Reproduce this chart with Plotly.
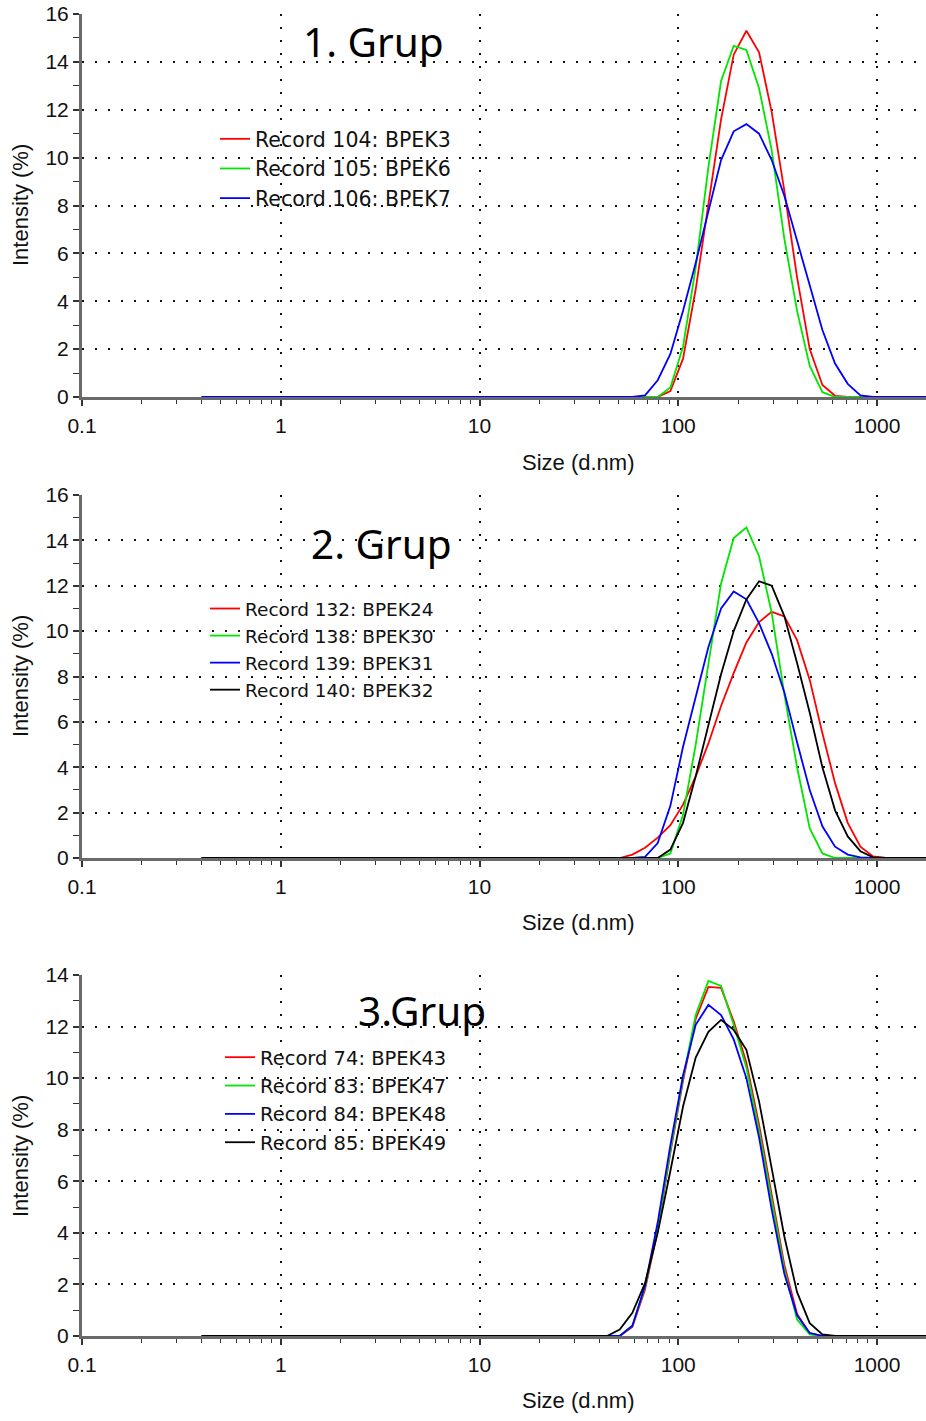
import plotly.graph_objects as go

# ---------------- data ----------------
SIZES_NM = [0.4, 0.4632, 0.5365, 0.6213, 0.7195, 0.8332, 0.9649, 1.117, 1.294, 1.499,
            1.736, 2.010, 2.328, 2.696, 3.122, 3.615, 4.187, 4.849, 5.615, 6.503,
            7.531, 8.721, 10.10, 11.70, 13.54, 15.69, 18.17, 21.04, 24.36, 28.21,
            32.67, 37.84, 43.82, 50.75, 58.77, 68.06, 78.82, 91.28, 105.7, 122.4,
            141.8, 164.2, 190.1, 220.2, 255.0, 295.3, 342.0, 396.1, 458.7, 531.2,
            615.1, 712.4, 825.0, 955.4, 1106, 1281, 1484, 1718, 1990, 2305,
            2669, 3091, 3580, 4145, 4801, 5560, 6439, 7456, 8635, 10000]

# intensities for the bins 43.82 ... 1106 nm (all other bins read as 0)
LEAD = [0.0] * 32
TAIL = [0.0] * 15

G1_NAMES = ["Record 104: BPEK3", "Record 105: BPEK6", "Record 106: BPEK7"]
G1_BPEK3 = LEAD + [0, 0, 0, 0, 0, 0.25, 1.6, 4.5, 8.0, 11.6, 14.3, 15.3, 14.4, 11.9, 8.6, 5.0, 2.0, 0.5, 0.05, 0, 0, 0, 0] + TAIL
G1_BPEK6 = LEAD + [0, 0, 0, 0, 0, 0.4, 2.1, 5.4, 9.6, 13.2, 14.67, 14.5, 12.9, 10.3, 6.6, 3.6, 1.3, 0.2, 0, 0, 0, 0, 0] + TAIL
G1_BPEK7 = LEAD + [0, 0, 0, 0.07, 0.7, 1.8, 3.6, 5.6, 7.8, 9.9, 11.1, 11.4, 11.0, 9.9, 8.4, 6.5, 4.6, 2.8, 1.4, 0.55, 0.07, 0, 0] + TAIL

G2_NAMES = ["Record 132: BPEK24", "Record 138: BPEK30", "Record 139: BPEK31", "Record 140: BPEK32"]
G2_BPEK24 = LEAD + [0, 0, 0.15, 0.45, 0.9, 1.45, 2.35, 3.6, 5.05, 6.7, 8.15, 9.5, 10.4, 10.85, 10.65, 9.6, 7.85, 5.5, 3.3, 1.55, 0.5, 0.07, 0] + TAIL
G2_BPEK30 = LEAD + [0, 0, 0, 0, 0, 0.2, 1.9, 5.0, 8.6, 12.1, 14.1, 14.57, 13.3, 10.8, 7.2, 4.0, 1.3, 0.2, 0, 0, 0, 0, 0] + TAIL
G2_BPEK31 = LEAD + [0, 0, 0, 0.05, 0.66, 2.3, 4.9, 7.1, 9.3, 11.0, 11.75, 11.4, 10.35, 9.0, 7.3, 5.1, 3.0, 1.4, 0.5, 0.15, 0.03, 0, 0] + TAIL
G2_BPEK32 = LEAD + [0, 0, 0, 0, 0, 0.37, 1.55, 3.6, 5.8, 8.1, 10.0, 11.4, 12.2, 12.0, 10.65, 8.6, 6.4, 4.0, 2.1, 0.95, 0.3, 0.03, 0] + TAIL

G3_NAMES = ["Record 74: BPEK43", "Record 83: BPEK47", "Record 84: BPEK48", "Record 85: BPEK49"]
G3_BPEK43 = LEAD + [0, 0, 0.35, 1.8, 4.1, 7.1, 9.9, 12.3, 13.54, 13.5, 12.2, 10.6, 8.2, 5.5, 2.75, 0.85, 0.1, 0, 0, 0, 0, 0, 0] + TAIL
G3_BPEK47 = LEAD + [0, 0, 0.4, 1.9, 4.2, 7.2, 10.0, 12.45, 13.77, 13.58, 12.07, 10.4, 7.96, 5.26, 2.57, 0.64, 0.06, 0, 0, 0, 0, 0, 0] + TAIL
G3_BPEK48 = LEAD + [0, 0, 0.4, 1.95, 4.4, 7.4, 10.1, 12.07, 12.84, 12.45, 11.5, 10.0, 7.7, 4.9, 2.4, 0.8, 0.12, 0, 0, 0, 0, 0, 0] + TAIL
G3_BPEK49 = LEAD + [0, 0.25, 0.9, 2.05, 4.0, 6.4, 8.9, 10.8, 11.8, 12.26, 11.87, 11.1, 9.1, 6.5, 3.85, 1.7, 0.5, 0.06, 0, 0, 0, 0, 0] + TAIL

GROUP_TITLES = ["1. Grup", "2. Grup", "3.Grup"]
X_TICK_VALS = [0.1, 1, 10, 100, 1000]
X_TICK_TEXT = ["0.1", "1", "10", "100", "1000"]
Y_MAX = [16, 16, 14]
X_TITLE = "Size (d.nm)"
Y_TITLE = "Intensity (%)"

COLORS = ["#ff0000", "#00e600", "#0000ff", "#000000"]

groups = [
    (G1_NAMES, [G1_BPEK3, G1_BPEK6, G1_BPEK7]),
    (G2_NAMES, [G2_BPEK24, G2_BPEK30, G2_BPEK31, G2_BPEK32]),
    (G3_NAMES, [G3_BPEK43, G3_BPEK47, G3_BPEK48, G3_BPEK49]),
]

# ---------------- layout geometry (pixels) ----------------
W, H = 926, 1421
PLOT_LEFT = 82
X_RANGE = [-1, 3.2465]
PANELS = [
    dict(top=14, bottom=397, title=(373, 42), legend=(215, 119), legsize=20.5,
         xt=462, yt=205),
    dict(top=495, bottom=858, title=(381, 543), legend=(205, 590), legsize=18.5,
         xt=922, yt=676),
    dict(top=975, bottom=1336, title=(422, 1010), legend=(220, 1038), legsize=19.5,
         xt=1400, yt=1156),
]

def fy(p):
    return 1 - p / H

def fx(p):
    return p / W

TICK_FONT = dict(family="Liberation Sans", size=21, color="#111")
TITLE_FONT = dict(family="Liberation Sans", size=22, color="#111")
LEG_FONT = "DejaVu Sans"
GRID = dict(showgrid=True, gridcolor="#111", gridwidth=1.6, griddash="2px,11px")
TICKC = "#333"

fig = go.Figure()
layout = dict(
    width=W, height=H,
    margin=dict(l=0, r=0, t=0, b=0, autoexpand=False),
    paper_bgcolor="white", plot_bgcolor="white",
    font=dict(family="Liberation Sans", size=19, color="#111"),
    annotations=[],
)

for i, ((names, series), pan) in enumerate(zip(groups, PANELS)):
    sfx = "" if i == 0 else str(i + 1)
    osfx = str(i + 4)
    legname = "legend" + sfx
    for j, (name, vals) in enumerate(zip(names, series)):
        fig.add_trace(go.Scatter(
            x=SIZES_NM, y=vals, name=name, mode="lines",
            line=dict(color=COLORS[j], width=1.8),
            xaxis="x" + sfx, yaxis="y" + sfx, legend=legname,
        ))
    xdom = [fx(PLOT_LEFT), 1]
    ydom = [fy(pan["bottom"]), fy(pan["top"])]
    layout["xaxis" + sfx] = dict(
        type="log", range=X_RANGE, domain=xdom,
        anchor="y" + sfx, automargin=False,
        tickmode="array", tickvals=X_TICK_VALS, ticktext=X_TICK_TEXT,
        ticks="outside", ticklen=6, tickwidth=1.6, tickcolor=TICKC,
        ticklabelstandoff=2,
        minor=dict(dtick="D1", ticks="outside", ticklen=4, tickwidth=1.3,
                   tickcolor=TICKC, showgrid=False),
        showline=True, linecolor="#6a6a6a", linewidth=3,
        zeroline=False, layer="below traces",
        tickfont=TICK_FONT,
        **GRID,
    )
    layout["yaxis" + sfx] = dict(
        range=[0, Y_MAX[i]], domain=ydom,
        anchor="x" + sfx, automargin=False,
        tick0=0, dtick=2,
        ticks="outside", ticklen=6, tickwidth=1.6, tickcolor=TICKC,
        minor=dict(dtick=1, ticks="outside", ticklen=6, tickwidth=1.3,
                   tickcolor=TICKC, showgrid=False),
        showline=True, linecolor="#6a6a6a", linewidth=3,
        zeroline=False, layer="below traces",
        tickfont=TICK_FONT,
        **GRID,
    )
    # overlay axes that add the inner half of the crossing tick marks
    layout["xaxis" + osfx] = dict(
        type="log", range=X_RANGE, domain=xdom, overlaying="x" + sfx,
        anchor="y" + sfx, automargin=False,
        tickmode="array", tickvals=X_TICK_VALS, showticklabels=False,
        ticks="inside", ticklen=6, tickwidth=1.6, tickcolor=TICKC,
        minor=dict(dtick="D1", ticks="inside", ticklen=4, tickwidth=1.3,
                   tickcolor=TICKC, showgrid=False),
        showline=False, showgrid=False, zeroline=False, layer="below traces",
    )
    layout["yaxis" + osfx] = dict(
        range=[0, Y_MAX[i]], domain=ydom, overlaying="y" + sfx,
        anchor="x" + sfx, automargin=False,
        tick0=0, dtick=2, showticklabels=False,
        ticks="inside", ticklen=6, tickwidth=1.6, tickcolor=TICKC,
        minor=dict(dtick=1, ticks="inside", ticklen=6, tickwidth=1.3,
                   tickcolor=TICKC, showgrid=False),
        showline=False, showgrid=False, zeroline=False, layer="below traces",
    )
    layout[legname] = dict(
        x=fx(pan["legend"][0]), y=fy(pan["legend"][1]),
        xanchor="left", yanchor="top",
        bgcolor="rgba(0,0,0,0)", borderwidth=0,
        font=dict(family=LEG_FONT, size=pan["legsize"], color="#111"),
        tracegroupgap=0,
    )
    tx, ty = pan["title"]
    layout["annotations"].append(dict(
        text=GROUP_TITLES[i], x=fx(tx), y=fy(ty), xref="paper", yref="paper",
        xanchor="center", yanchor="middle", showarrow=False,
        font=dict(family="Noto Sans", size=40.5, color="#000"),
    ))
    layout["annotations"].append(dict(
        text=X_TITLE, x=fx(578), y=fy(pan["xt"]), xref="paper", yref="paper",
        xanchor="center", yanchor="middle", showarrow=False,
        font=TITLE_FONT,
    ))
    layout["annotations"].append(dict(
        text=Y_TITLE, x=fx(20), y=fy(pan["yt"]), xref="paper", yref="paper",
        xanchor="center", yanchor="middle", showarrow=False, textangle=-90,
        font=TITLE_FONT,
    ))

fig.update_layout(**layout)
fig.write_html("out.html")
